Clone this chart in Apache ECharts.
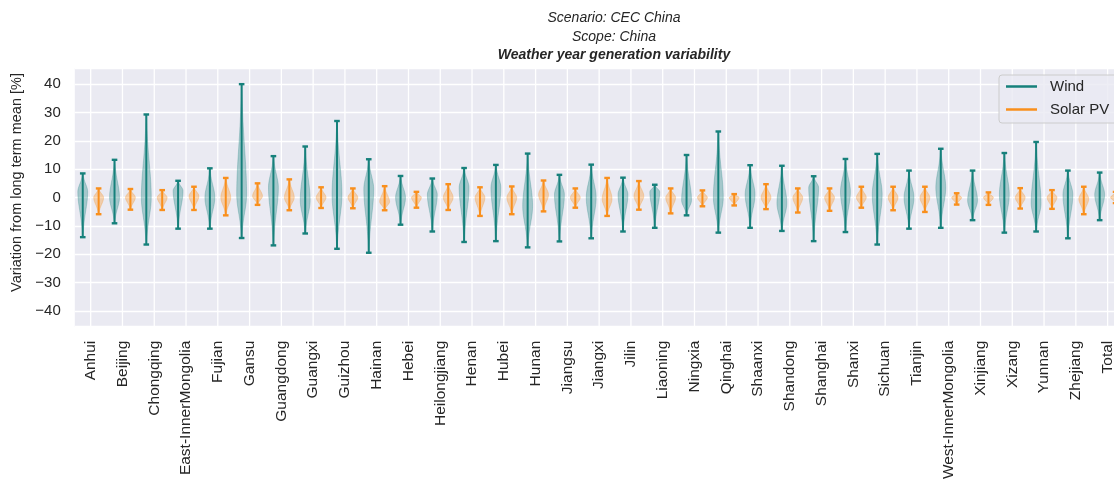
<!DOCTYPE html>
<html>
<head>
<meta charset="utf-8">
<script src="https://cdn.jsdelivr.net/npm/echarts@6/dist/echarts.min.js"></script>
<style>
  html, body { margin: 0; padding: 0; background: #ffffff; }
  #chart { width: 1114px; height: 481px; }
</style>
</head>
<body>
<div id="chart"></div>
<script>
// Provinces / grid regions, plus the national total
const regions = ['Anhui', 'Beijing', 'Chongqing', 'East-InnerMongolia', 'Fujian', 'Gansu', 'Guangdong', 'Guangxi',
  'Guizhou', 'Hainan', 'Hebei', 'Heilongjiang', 'Henan', 'Hubei', 'Hunan', 'Jiangsu', 'Jiangxi', 'Jilin',
  'Liaoning', 'Ningxia', 'Qinghai', 'Shaanxi', 'Shandong', 'Shanghai', 'Shanxi', 'Sichuan', 'Tianjin',
  'West-InnerMongolia', 'Xinjiang', 'Xizang', 'Yunnan', 'Zhejiang', 'Total'];

// Wind: highest / lowest weather year and level of densest outcome (% from long term mean)
const windMax = [8.5, 13.3, 29.3, 5.9, 10.3, 40.0, 14.6, 18.0, 27.0, 13.5, 7.6, 6.7, 10.4, 11.5, 15.5, 8.0, 11.6,
  7.0, 4.5, 15.0, 23.3, 11.4, 11.2, 7.5, 13.6, 15.4, 9.5, 17.2, 9.5, 15.7, 19.6, 9.5, 8.8];
const windMin = [-14.0, -9.1, -16.6, -11.0, -11.0, -14.3, -16.9, -12.7, -18.1, -19.5, -9.6, -12.0, -15.7, -15.4,
  -17.6, -15.5, -14.4, -12.0, -10.7, -6.3, -12.4, -10.7, -11.8, -15.4, -12.2, -16.6, -11.0, -10.7, -8.0, -12.4,
  -12.0, -14.4, -8.0];
const windPeak = [2, 0, 0, 2.4, 0, 1, 3.5, -1, 1, 3, 0, 1, 3.5, 3.5, -3, 1, 0, 1, 2, -1, 0, 1, -2, 3.5, 2, 1, 0,
  3.5, -1, 1, -2, 1, 1];

// Solar PV: same statistics
const solarMax = [3.2, 3.0, 2.6, 3.8, 6.9, 5.0, 6.4, 3.6, 3.2, 4.0, 2.0, 4.7, 3.6, 3.9, 6.0, 3.2, 6.9, 5.8, 3.2,
  2.5, 1.2, 4.7, 3.2, 3.2, 3.8, 3.8, 3.8, 1.5, 1.8, 3.3, 2.6, 3.8, 2.0];
const solarMin = [-5.9, -4.3, -4.4, -4.4, -6.3, -2.6, -4.5, -3.7, -3.8, -4.5, -3.6, -4.4, -6.5, -5.9, -4.9, -3.6,
  -6.5, -4.3, -5.6, -3.1, -2.8, -4.1, -5.3, -4.7, -3.6, -4.5, -5.1, -2.5, -2.6, -3.9, -4.0, -5.9, -2.0];
const solarPeak = [0, 0, 0, 0.5, 0, 0.5, 0, 0, 0, -1.5, 0, 0, 0, 0, 1, 0, -0.5, 0.5, 0, 0, 0, 0, 0, 0, 0, 0, 0,
  0, 0, 0, 0, -0.5, 0];

const WIND_COLOR = '#16807b';
const SOLAR_COLOR = '#f98f1c';
const TEXT_COLOR = '#262626';
const FONT = '"Liberation Sans", Arial, sans-serif';

function toRows(maxArr, minArr, peakArr) {
  return regions.map((r, i) => [i, minArr[i], maxArr[i], peakArr[i]]);
}

function hexToRgba(hex, a) {
  const n = parseInt(hex.slice(1), 16);
  return 'rgba(' + ((n >> 16) & 255) + ',' + ((n >> 8) & 255) + ',' + (n & 255) + ',' + a + ')';
}

// Violin glyph: density body around the densest level plus an extrema bar with caps
function violinRenderer(offsetFrac, color) {
  const fill = hexToRgba(color, 0.33);
  return function (params, api) {
    const idx = api.value(0);
    const lo = api.value(1);
    const hi = api.value(2);
    const pk = api.value(3);
    const band = api.size([1, 0])[0];
    const cx = api.coord([idx, 0])[0] + band * offsetFrac;
    const half = band * 0.155;
    const sLo = Math.max(pk - lo, 0.1) / 2.4;
    const sHi = Math.max(hi - pk, 0.1) / 2.4;
    const left = [];
    const right = [];
    const N = 48;
    for (let i = 0; i <= N; i++) {
      const v = lo + (hi - lo) * i / N;
      const s = v < pk ? sLo : sHi;
      const w = half * Math.exp(-0.5 * Math.pow((v - pk) / s, 2));
      const y = api.coord([idx, v])[1];
      left.push([cx - w, y]);
      right.unshift([cx + w, y]);
    }
    const yLo = api.coord([idx, lo])[1];
    const yHi = api.coord([idx, hi])[1];
    const cap = 2.8;
    return {
      type: 'group',
      children: [
        { type: 'polygon', shape: { points: left.concat(right) },
          style: { fill: fill, stroke: fill, lineWidth: 0.8 } },
        { type: 'line', shape: { x1: cx, y1: yLo, x2: cx, y2: yHi }, style: { stroke: color, lineWidth: 2 } },
        { type: 'line', shape: { x1: cx - cap, y1: yLo, x2: cx + cap, y2: yLo }, style: { stroke: color, lineWidth: 2.4 } },
        { type: 'line', shape: { x1: cx - cap, y1: yHi, x2: cx + cap, y2: yHi }, style: { stroke: color, lineWidth: 2.4 } }
      ]
    };
  };
}

// Vertical white grid lines at each region position
function gridLineRenderer(params, api) {
  const cs = params.coordSys;
  const x = api.coord([api.value(0), 0])[0];
  return {
    type: 'line',
    shape: { x1: x, y1: cs.y, x2: x, y2: cs.y + cs.height },
    style: { stroke: '#ffffff', lineWidth: 1.3 }
  };
}

const chart = echarts.init(document.getElementById('chart'), null, { renderer: 'canvas' });

chart.setOption({
  animation: false,
  backgroundColor: '#ffffff',
  title: {
    left: 609,
    top: 4,
    textAlign: 'center',
    text: '{a|Scenario: CEC China}\n{a|Scope: China}\n{b|Weather year generation variability}',
    textStyle: {
      fontWeight: 'normal',
      rich: {
        a: { fontFamily: FONT, fontSize: 14, fontStyle: 'italic', fontWeight: 'normal', color: TEXT_COLOR, lineHeight: 18.5 },
        b: { fontFamily: FONT, fontSize: 14, fontStyle: 'italic', fontWeight: 'bold', color: TEXT_COLOR, lineHeight: 18.5 }
      }
    }
  },
  legend: {
    orient: 'vertical',
    left: 999,
    top: 75,
    padding: [4, 12, 6, 7],
    itemGap: 8,
    itemWidth: 31,
    itemHeight: 2.5,
    backgroundColor: 'rgba(234,234,242,0.8)',
    borderColor: '#cccccc',
    borderWidth: 1,
    borderRadius: 3,
    textStyle: { fontFamily: FONT, fontSize: 15, color: TEXT_COLOR, padding: [0, 0, 0, 8] },
    data: [
      { name: 'Wind', icon: 'rect' },
      { name: 'Solar PV', icon: 'rect' }
    ]
  },
  grid: {
    left: 74.8,
    top: 68.3,
    width: 1048.7,
    height: 258.4,
    show: true,
    backgroundColor: '#eaeaf2',
    borderWidth: 0,
    containLabel: false,
    outerBoundsMode: 'none'
  },
  xAxis: {
    type: 'category',
    data: regions,
    boundaryGap: true,
    axisLine: { show: false },
    axisTick: { show: false },
    splitLine: { show: false },
    axisLabel: {
      rotate: 90,
      interval: 0,
      margin: 14,
      fontFamily: FONT,
      fontSize: 15.5,
      color: TEXT_COLOR
    }
  },
  yAxis: {
    type: 'value',
    min: -45.6,
    max: 45.6,
    splitNumber: 9,
    name: 'Variation from long term mean [%]',
    nameLocation: 'middle',
    nameRotate: 90,
    nameGap: 49,
    nameTextStyle: { fontFamily: FONT, fontSize: 14.5, color: TEXT_COLOR, padding: [0, 0, 0, 30] },
    axisLine: { show: false },
    axisTick: { show: false },
    splitLine: { lineStyle: { color: '#ffffff', width: 1.3 } },
    axisLabel: {
      showMinLabel: false,
      showMaxLabel: false,
      margin: 14,
      fontFamily: FONT,
      fontSize: 15,
      color: TEXT_COLOR,
      formatter: function (v) {
        if (Math.abs(v % 10) > 1e-6) return '';
        return String(v).replace('-', '\u2212');
      }
    }
  },
  series: [
    {
      type: 'custom',
      name: 'grid',
      silent: true,
      z: 0,
      renderItem: gridLineRenderer,
      data: regions.map((r, i) => [i]),
      encode: { x: 0 }
    },
    {
      type: 'custom',
      name: 'Wind',
      itemStyle: { color: WIND_COLOR },
      z: 3,
      renderItem: violinRenderer(-0.25, WIND_COLOR),
      data: toRows(windMax, windMin, windPeak),
      encode: { x: 0, y: [1, 2] }
    },
    {
      type: 'custom',
      name: 'Solar PV',
      itemStyle: { color: SOLAR_COLOR },
      z: 3,
      renderItem: violinRenderer(0.25, SOLAR_COLOR),
      data: toRows(solarMax, solarMin, solarPeak),
      encode: { x: 0, y: [1, 2] }
    }
  ]
});
</script>
</body>
</html>
